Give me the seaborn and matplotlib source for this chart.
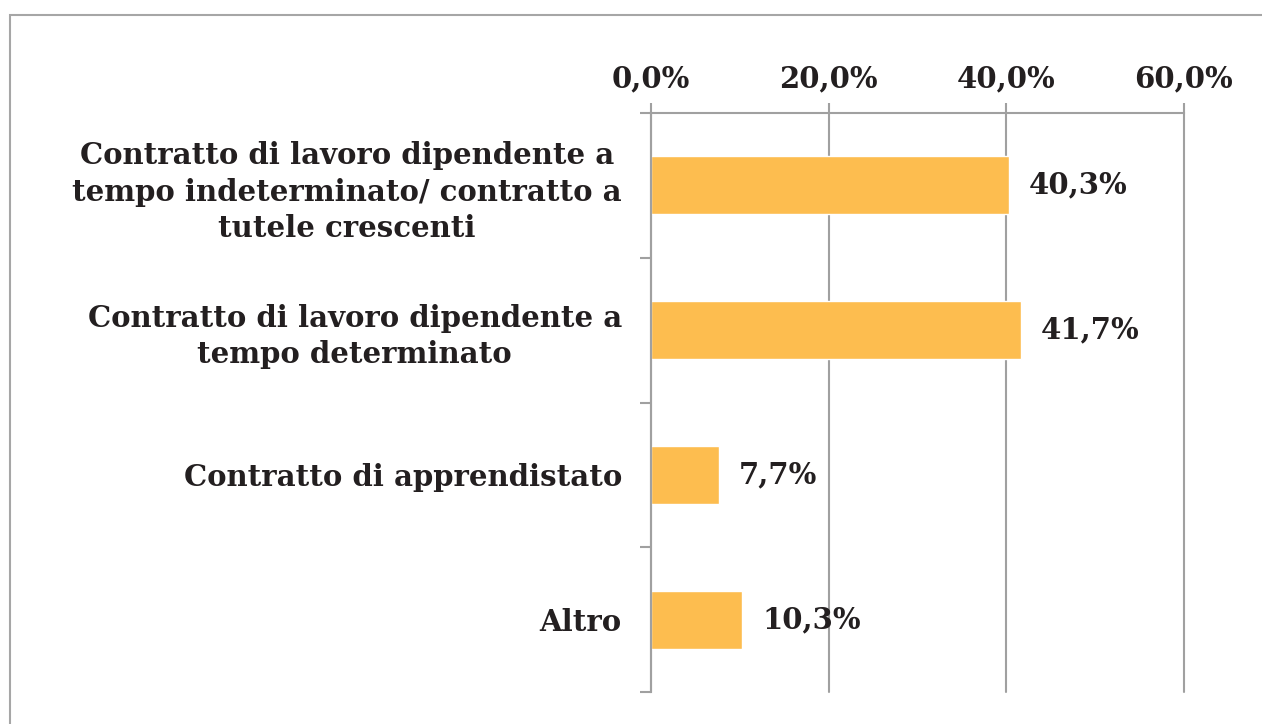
import matplotlib.pyplot as plt
import matplotlib.patches as mpatches
import seaborn as sns

categories = [
    "Contratto di lavoro dipendente a\ntempo indeterminato/ contratto a\ntutele crescenti",
    "Contratto di lavoro dipendente a\ntempo determinato",
    "Contratto di apprendistato",
    "Altro",
]
values = [40.3, 41.7, 7.7, 10.3]
value_labels = ["40,3%", "41,7%", "7,7%", "10,3%"]
x_ticks = [0, 20, 40, 60]

BAR = "#FDBD4F"
GRID = "#A0A0A0"
TEXT = "#231F20"
FS = 21


def main():
    sns.set_style("white")
    plt.rcParams["font.family"] = ["DejaVu Serif"]
    plt.rcParams["font.weight"] = "bold"

    fig = plt.figure(figsize=(12.62, 7.24), dpi=100)
    ax = fig.add_axes([651 / 1262, 1 - 692 / 724, (1184 - 651) / 1262, (692 - 113) / 724])

    sns.barplot(x=values, y=categories, color=BAR, width=0.4, orient="h",
                saturation=1, ax=ax)

    ax.set_xlim(0, 60)
    ax.set_ylim(3.5, -0.5)
    ax.xaxis.tick_top()
    ax.set_xticks(x_ticks)
    ax.set_xticklabels([f"{v:.1f}%".replace(".", ",") for v in x_ticks],
                       fontsize=FS, color=TEXT, fontweight="bold")
    ax.tick_params(axis="x", length=7, width=1.5, color=GRID, pad=7)
    ax.grid(axis="x", color=GRID, linewidth=1.5)
    for gl in ax.get_xgridlines():
        gl.set_clip_on(False)
    ax.set_axisbelow(True)

    ax.set_yticks(range(len(categories)))
    ax.set_yticklabels(categories, fontsize=FS, color=TEXT, fontweight="bold",
                       multialignment="center", linespacing=1.32)
    ax.set_yticks([-0.5, 0.5, 1.5, 2.5, 3.5], minor=True)
    ax.tick_params(axis="y", which="major", length=0, pad=21)
    ax.tick_params(axis="y", which="minor", left=True, length=8, width=1.5, color=GRID)

    for side in ["right", "bottom"]:
        ax.spines[side].set_visible(False)
    for side in ["top", "left"]:
        ax.spines[side].set_color(GRID)
        ax.spines[side].set_linewidth(1.5)

    ax.set_xlabel("")
    ax.set_ylabel("")

    ax.bar_label(ax.containers[0], labels=value_labels, padding=14,
                 fontsize=FS, color=TEXT, fontweight="bold")

    border = mpatches.Rectangle((10 / 1262, -0.2), 1.5, 1.2 - 15 / 724,
                                transform=fig.transFigure, fill=False,
                                edgecolor="#A6A6A6", linewidth=1.5)
    fig.patches.append(border)

    fig.savefig("out.png", dpi=100)


if __name__ == "__main__":
    main()
